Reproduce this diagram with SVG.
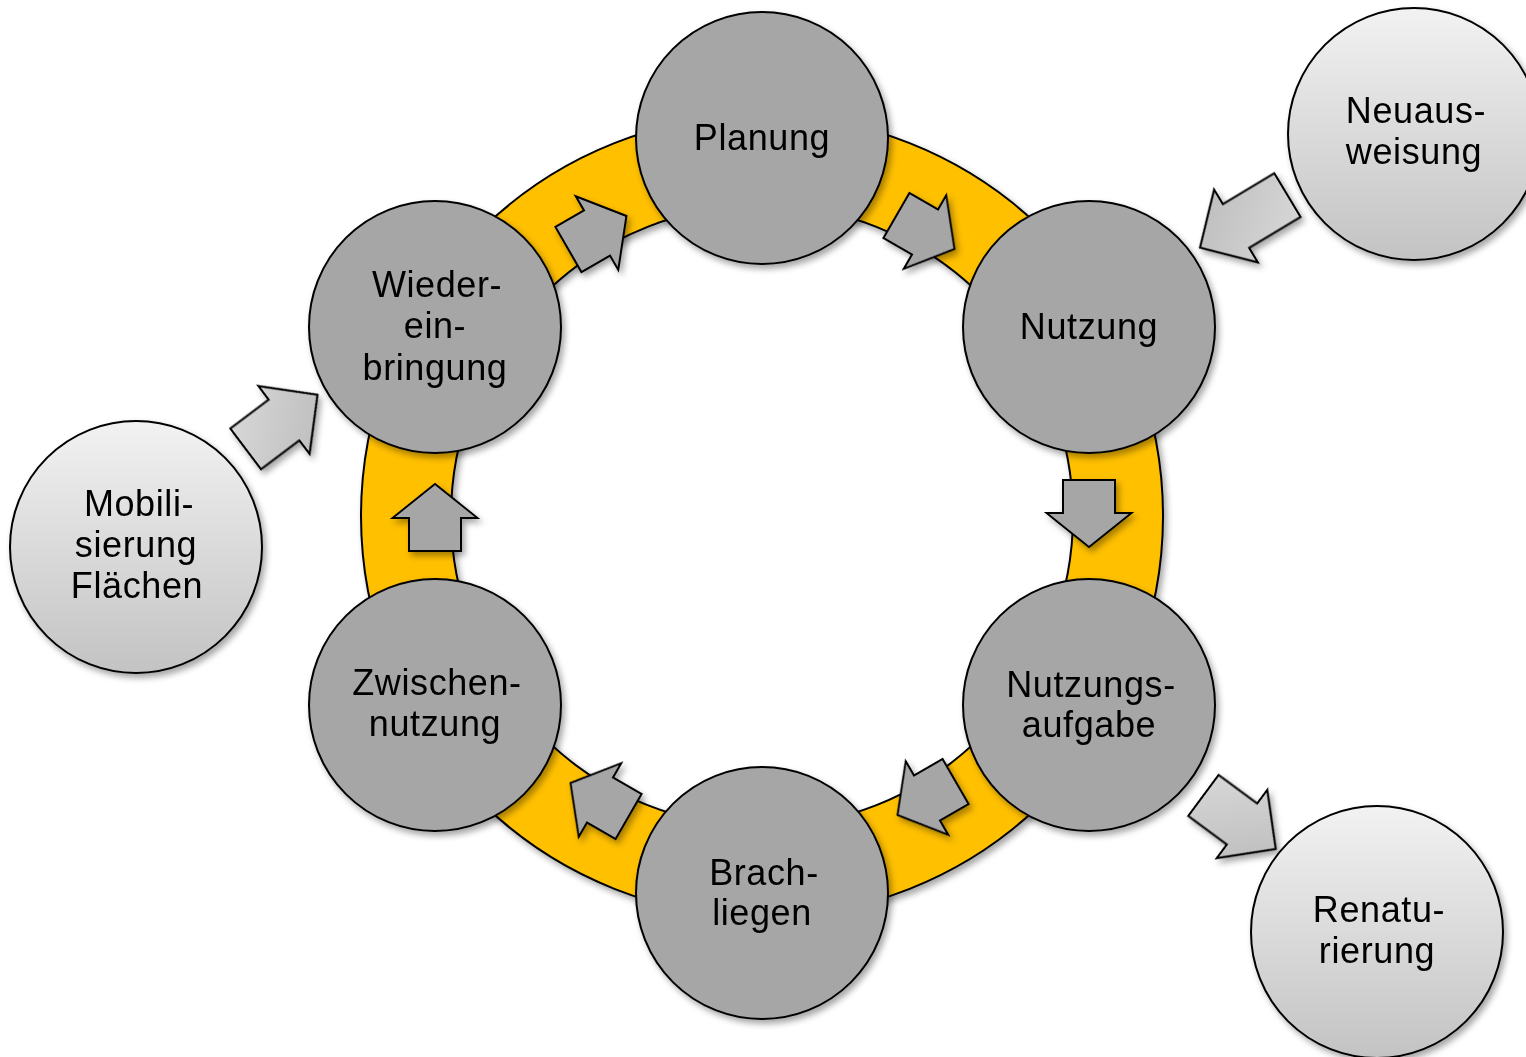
<svg xmlns="http://www.w3.org/2000/svg" width="1526" height="1057" viewBox="0 0 1526 1057">
  <style>
    .inner { fill: #a6a6a6; stroke: #000; stroke-width: 2; }
    .outer { fill: url(#outerGrad); stroke: #000; stroke-width: 2; }
    .lbl { font-family: "Liberation Sans", Arial, sans-serif; font-size: 36px; fill: #000; text-anchor: middle; letter-spacing: 0.6px; }
    .ra { fill: #a6a6a6; stroke: #000; stroke-width: 2; stroke-linejoin: miter; }
    .oa { fill: url(#arrowGrad); stroke: #000; stroke-width: 2; stroke-linejoin: miter; }
  </style>
  <defs>
    <linearGradient id="outerGrad" x1="0" y1="0" x2="0" y2="1">
      <stop offset="0" stop-color="#f2f2f2"/>
      <stop offset="1" stop-color="#c3c3c3"/>
    </linearGradient>
    <linearGradient id="arrowGrad" x1="0" y1="0" x2="1" y2="1">
      <stop offset="0" stop-color="#dadada"/>
      <stop offset="1" stop-color="#b9b9b9"/>
    </linearGradient>
    <filter id="sh" x="-20%" y="-20%" width="140%" height="140%">
      <feDropShadow dx="3" dy="4" stdDeviation="3" flood-color="#000" flood-opacity="0.35"/>
    </filter>
    <polygon id="ringArrow" points="-33,-26 0,-26 0,-42.5 34,0 0,42.5 0,26 -33,26"/>
  </defs>

  <rect width="1526" height="1057" fill="#fff"/>

  <g id="ring" filter="url(#sh)">
    <path d="M 361 516 A 401 401 0 1 0 1163 516 A 401 401 0 1 0 361 516 Z M 451 516 A 311 311 0 1 1 1073 516 A 311 311 0 1 1 451 516 Z" fill="#ffc000" fill-rule="evenodd" stroke="#000" stroke-width="2"/>
  </g>

  <g id="connectors" filter="url(#sh)">
    <use href="#ringArrow" class="ra" transform="translate(597,233) rotate(-30)"/>
    <use href="#ringArrow" class="ra" transform="translate(925,232) rotate(30)"/>
    <use href="#ringArrow" class="ra" transform="translate(1089,513) rotate(90)"/>
    <use href="#ringArrow" class="ra" transform="translate(927,798) rotate(150)"/>
    <use href="#ringArrow" class="ra" transform="translate(600,800) rotate(210)"/>
    <use href="#ringArrow" class="ra" transform="translate(435,518) rotate(-90)"/>
    <polygon class="oa" transform="translate(1236,226) rotate(149)" points="-60,-25.5 0,-25.5 0,-42.5 42,0 0,42.5 0,25.5 -60,25.5"/>
    <polygon class="oa" transform="translate(284,420) rotate(-37)" points="-48,-25.5 0,-25.5 0,-42.5 42,0 0,42.5 0,25.5 -48,25.5"/>
    <polygon class="oa" transform="translate(1242,824) rotate(36.5)" points="-48,-25.5 0,-25.5 0,-42.5 42,0 0,42.5 0,25.5 -48,25.5"/>
  </g>

  <g id="planung" filter="url(#sh)">
    <circle class="inner" cx="762" cy="138" r="126"/>
    <text class="lbl" x="762" y="150">Planung</text>
  </g>
  <g id="nutzung" filter="url(#sh)">
    <circle class="inner" cx="1089" cy="327" r="126"/>
    <text class="lbl" x="1089" y="339">Nutzung</text>
  </g>
  <g id="nutzungsaufgabe" filter="url(#sh)">
    <circle class="inner" cx="1089" cy="705" r="126"/>
    <text class="lbl" x="1091" y="697">Nutzungs-</text>
    <text class="lbl" x="1089" y="737">aufgabe</text>
  </g>
  <g id="brachliegen" filter="url(#sh)">
    <circle class="inner" cx="762" cy="893" r="126"/>
    <text class="lbl" x="764" y="885">Brach-</text>
    <text class="lbl" x="762" y="925">liegen</text>
  </g>
  <g id="zwischennutzung" filter="url(#sh)">
    <circle class="inner" cx="435" cy="705" r="126"/>
    <text class="lbl" x="437" y="695">Zwischen-</text>
    <text class="lbl" x="435" y="736">nutzung</text>
  </g>
  <g id="wiedereinbringung" filter="url(#sh)">
    <circle class="inner" cx="435" cy="327" r="126"/>
    <text class="lbl" x="437" y="297">Wieder-</text>
    <text class="lbl" x="435" y="338">ein-</text>
    <text class="lbl" x="435" y="380">bringung</text>
  </g>
  <g id="neuausweisung" filter="url(#sh)">
    <circle class="outer" cx="1414" cy="134" r="126"/>
    <text class="lbl" x="1416" y="123">Neuaus-</text>
    <text class="lbl" x="1414" y="164">weisung</text>
  </g>
  <g id="mobilisierung" filter="url(#sh)">
    <circle class="outer" cx="136" cy="547" r="126"/>
    <text class="lbl" x="139" y="516">Mobili-</text>
    <text class="lbl" x="136" y="557">sierung</text>
    <text class="lbl" x="137" y="598">Flächen</text>
  </g>
  <g id="renaturierung" filter="url(#sh)">
    <circle class="outer" cx="1377" cy="932" r="126"/>
    <text class="lbl" x="1379" y="922">Renatu-</text>
    <text class="lbl" x="1377" y="963">rierung</text>
  </g>
</svg>
